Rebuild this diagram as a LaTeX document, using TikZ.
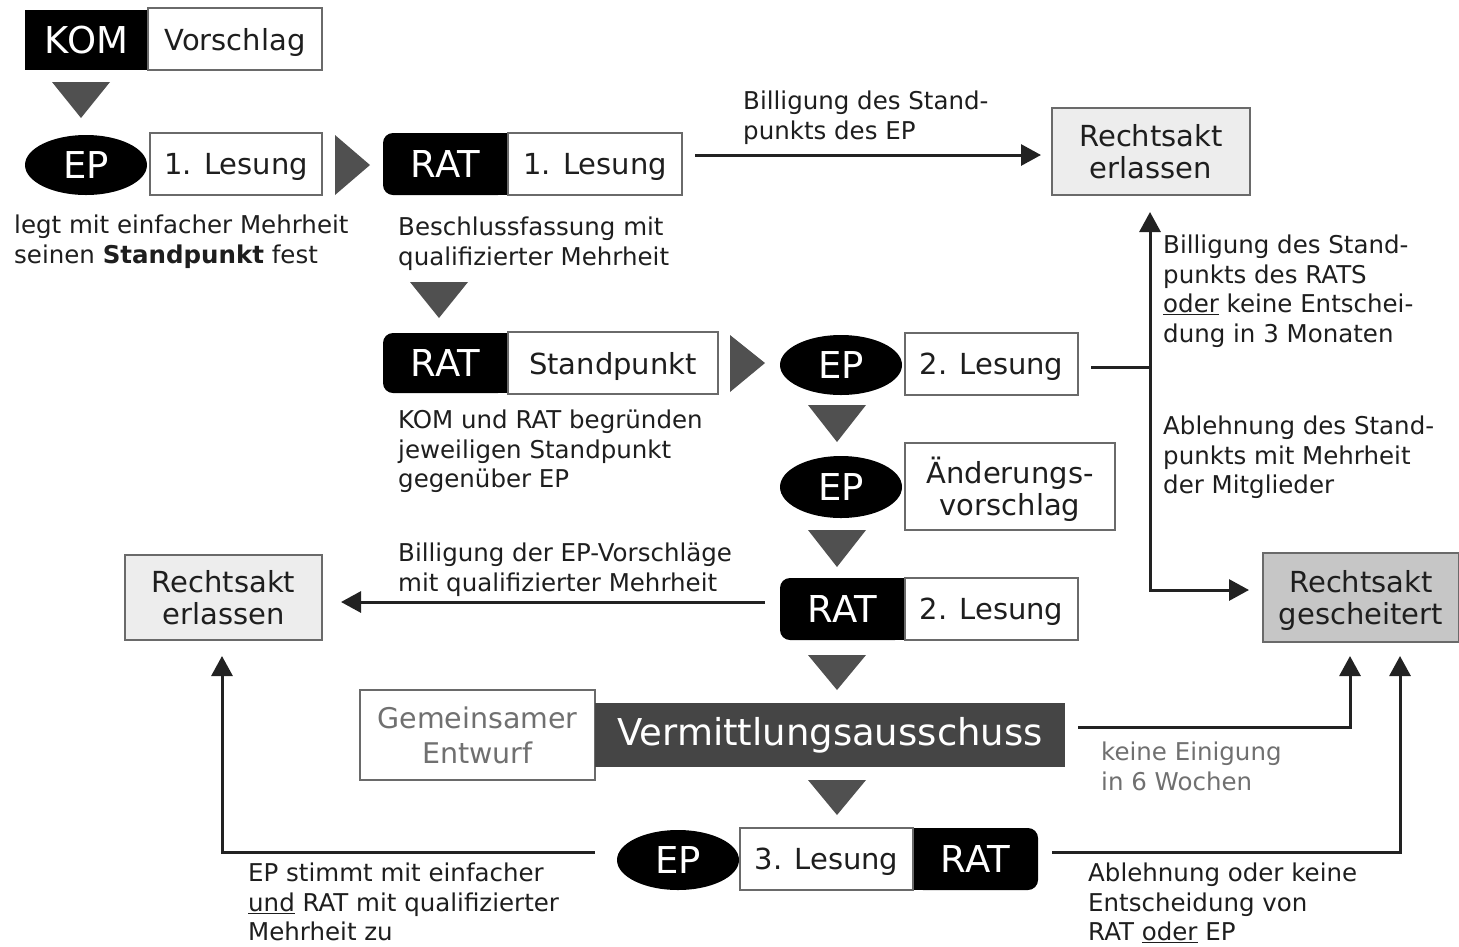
\documentclass[tikz,border=0pt]{standalone}
\usepackage{fontspec}
\setmainfont{DejaVu Sans}
\usetikzlibrary{shapes.geometric,arrows.meta,calc}
\definecolor{lin}{HTML}{222222}
\definecolor{tri}{HTML}{505050}
\definecolor{bord}{HTML}{6A6A6A}
\definecolor{lightbox}{HTML}{EDEDED}
\definecolor{failbox}{HTML}{C6C6C6}
\definecolor{vermbox}{HTML}{454545}
\definecolor{greytext}{HTML}{707070}
\definecolor{txt}{HTML}{1E1E1E}
\begin{document}
\begin{tikzpicture}[x=1pt,y=-1pt,
  lab/.style={font=\fontsize{29}{32}\selectfont},
  wbox/.style={draw=bord,line width=2pt,fill=white,inner sep=0pt,lab,text=txt,align=center,text depth=0pt},
  gbox/.style={wbox,fill=lightbox},
  blk/.style={fill=black,text=white,inner sep=0pt,font=\fontsize{37}{38}\selectfont},
  epell/.style={ellipse,fill=black,text=white,inner sep=0pt,minimum width=122pt,minimum height=60pt,font=\fontsize{37}{38}\selectfont},
  note/.style={anchor=north west,align=left,inner sep=0pt,text=txt,font=\fontsize{24.5}{29.5}\selectfont},
  ln/.style={draw=lin,line width=3pt},
  arr/.style={ln,-{Triangle[length=20pt,width=21pt]}},
  tri/.style={fill=tri}
]
\useasboundingbox (0,0) rectangle (1459,946);
\fill[white] (0,0) rectangle (1459,946);

% KOM Vorschlag
\node[blk,minimum width=123pt,minimum height=60pt] (kom) at (86.5,40) {KOM};
\node[wbox,minimum width=174pt,minimum height=62pt] (vor) at (235,39) {Vorschlag};
\fill[tri] (52,82) -- (110,82) -- (81,118) -- cycle;

% EP 1. Lesung
\node[epell] (ep1) at (86,165) {EP};
\node[wbox,minimum width=172pt,minimum height=62pt] (les1) at (236,164) {1. Lesung};
\fill[tri] (335,135) -- (370,165) -- (335,195) -- cycle;
\node[note] (n1) at (14,215) {legt mit einfacher Mehrheit\\seinen \textbf{Standpunkt} fest};

% RAT 1. Lesung
\node[blk,rounded corners=10pt,minimum width=125pt,minimum height=62pt] (rat1) at (445.5,164) {RAT};
\fill[black] (rat1.north) rectangle (rat1.south east);
\node[blk] at (rat1) {RAT};
\node[wbox,minimum width=174pt,minimum height=62pt] (les2) at (595,164) {1. Lesung};
\node[note] (n2) at (398,217) {Beschlussfassung mit\\qualifizierter Mehrheit};

% Rechtsakt erlassen (top)
\node[gbox,minimum width=198pt,minimum height=87pt] (ra1) at (1151,151.5) {Rechtsakt\\erlassen};
\draw[arr] ([xshift=12pt]les2.east |- 0,155) -- ([xshift=-10pt]ra1.west |- 0,155);
\node[note] (n3) at (743,91) {Billigung des Stand-\\punkts des EP};

% RAT Standpunkt
\fill[tri] (410,282) -- (468,282) -- (439,318) -- cycle;
\node[blk,rounded corners=10pt,minimum width=125pt,minimum height=60pt] (rat2) at (445.5,363) {RAT};
\fill[black] (rat2.north) rectangle (rat2.south east);
\node[blk] at (rat2) {RAT};
\node[wbox,minimum width=210pt,minimum height=62pt] (std) at (613,363) {Standpunkt};
\node[note] (n4) at (398,410) {KOM und RAT begründen\\jeweiligen Standpunkt\\gegenüber EP};
\fill[tri] (730,335) -- (765,363) -- (730,392) -- cycle;

% EP 2. Lesung
\node[epell] (ep2) at (841,365) {EP};
\node[wbox,minimum width=173pt,minimum height=62pt] (les3) at (991.5,364) {2. Lesung};

% Rechtsakt gescheitert
\node[wbox,fill=failbox,minimum width=196pt,minimum height=89pt] (fail) at (1361,597.5) {Rechtsakt\\gescheitert};

\coordinate (j1) at (1150,367);
\coordinate (j2) at (1150,590);
\draw[ln] ([xshift=12pt]les3.east |- j1) -- (j1);
\draw[arr] (j2) -- ([yshift=-16pt]ra1.south -| j1);
\draw[arr] (j1) -- (j2) -- ([xshift=-13pt]fail.west |- j2);
\node[note] (n5) at (1163,235) {Billigung des Stand-\\punkts des RATS\\\underline{oder} keine Entschei-\\dung in 3 Monaten};
\node[note] (n6) at (1163,416) {Ablehnung des Stand-\\punkts mit Mehrheit\\der Mitglieder};

% EP Änderungsvorschlag
\fill[tri] (808,405) -- (866,405) -- (837,442) -- cycle;
\node[epell,minimum height=62pt] (ep3) at (841,487) {EP};
\node[wbox,minimum width=210pt,minimum height=87pt] (aend) at (1010,486.5) {Änderungs-\\vorschlag};
\fill[tri] (808,530) -- (866,530) -- (837,567) -- cycle;

% RAT 2. Lesung
\node[blk,rounded corners=10pt,minimum width=125pt,minimum height=62pt] (rat3) at (842.5,609) {RAT};
\fill[black] (rat3.north) rectangle (rat3.south east);
\node[blk] at (rat3) {RAT};
\node[wbox,minimum width=173pt,minimum height=62pt] (les4) at (991.5,609) {2. Lesung};

% Rechtsakt erlassen (left)
\node[gbox,minimum width=197pt,minimum height=85pt] (ra2) at (223.5,597.5) {Rechtsakt\\erlassen};
\draw[arr] ([xshift=-15pt]rat3.west |- 0,602) -- ([xshift=18pt]ra2.east |- 0,602);
\node[note] (n7) at (398,543) {Billigung der EP-Vorschläge\\mit qualifizierter Mehrheit};

% Vermittlungsausschuss
\fill[tri] (808,655) -- (866,655) -- (837,690) -- cycle;
\node[wbox,minimum width=235pt,minimum height=90pt,text=greytext,font=\fontsize{28.5}{35}\selectfont] (gem) at (477.5,735) {Gemeinsamer\\Entwurf};
\node[fill=vermbox,text=white,inner sep=0pt,minimum width=470pt,minimum height=64pt,font=\fontsize{37}{38}\selectfont] (verm) at (830,735) {Vermittlungsausschuss};
\coordinate (k1) at (1350,727);
\draw[arr] ([xshift=13pt]verm.east |- k1) -- (k1) -- ([yshift=-13pt]fail.south -| k1);
\node[note,text=greytext] (n8) at (1101,742) {keine Einigung\\in 6 Wochen};

% 3. Lesung
\fill[tri] (808,780) -- (866,780) -- (837,815) -- cycle;
\node[epell] (ep4) at (678,860) {EP};
\node[blk,rounded corners=10pt,minimum width=125pt,minimum height=62pt] (rat4) at (975.5,859) {RAT};
\fill[black] (rat4.north west) rectangle (rat4.south);
\node[blk] at (rat4) {RAT};
\node[wbox,minimum width=173pt,minimum height=62pt] (les5) at (826.5,859) {3. Lesung};

\coordinate (cl) at (222,852);
\coordinate (cr) at (1400,852);
\draw[arr] ([xshift=-22pt]ep4.west |- cl) -- (cl) -- ([yshift=-15pt]ra2.south -| cl);
\draw[arr] ([xshift=14pt]rat4.east |- cr) -- (cr) -- ([yshift=-13pt]fail.south -| cr);
\node[note] (n9) at (248,863) {EP stimmt mit einfacher\\\underline{und} RAT mit qualifizierter\\Mehrheit zu};
\node[note] (n10) at (1088,863) {Ablehnung oder keine\\Entscheidung von\\RAT \underline{oder} EP};
\end{tikzpicture}
\end{document}
